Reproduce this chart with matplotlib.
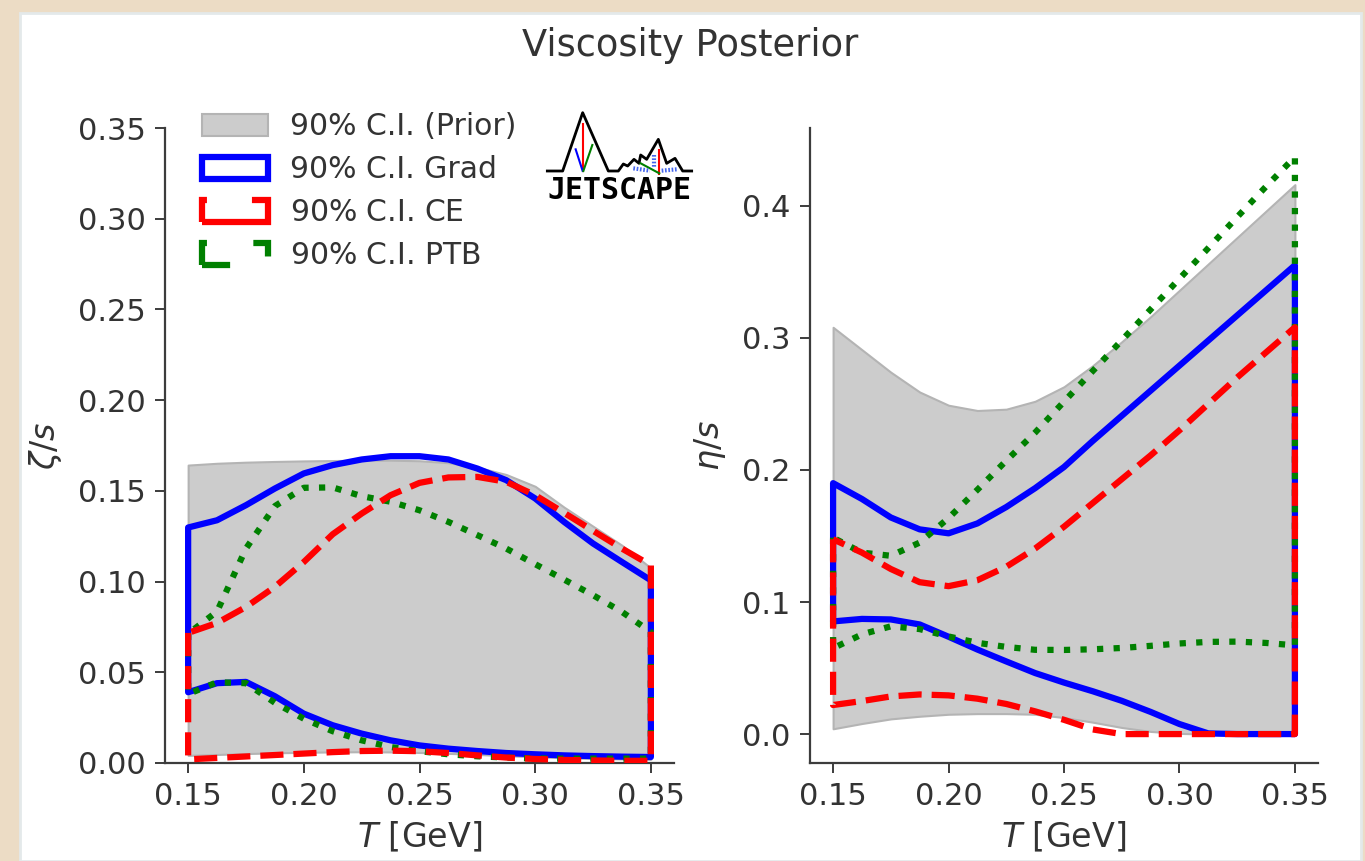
import matplotlib.pyplot as plt
from matplotlib.patches import Rectangle

# temperature grid [GeV]
T = [0.15, 0.1625, 0.175, 0.1875, 0.2, 0.2125, 0.225, 0.2375, 0.25,
     0.2625, 0.275, 0.2875, 0.3, 0.3125, 0.325, 0.3375, 0.35]

# zeta/s 90% bands
zeta_prior_lo = [0.0042, 0.0047, 0.0052, 0.0056, 0.0059, 0.0061, 0.0062, 0.0061, 0.0058,
                 0.0053, 0.0047, 0.0040, 0.0034, 0.0029, 0.0025, 0.0022, 0.0020]
zeta_prior_hi = [0.1642, 0.1652, 0.1658, 0.1662, 0.1665, 0.1667, 0.1669, 0.1669, 0.1666,
                 0.1655, 0.1630, 0.1590, 0.1525, 0.1410, 0.1305, 0.1200, 0.1075]
zeta_grad_lo = [0.0390, 0.0440, 0.0447, 0.0368, 0.0272, 0.0208, 0.0162, 0.0125, 0.0097,
                0.0079, 0.0066, 0.0055, 0.0048, 0.0042, 0.0038, 0.0035, 0.0033]
zeta_grad_hi = [0.1298, 0.1338, 0.1421, 0.1513, 0.1596, 0.1642, 0.1673, 0.1691, 0.1691,
                0.1673, 0.1623, 0.1559, 0.1458, 0.1329, 0.1210, 0.1108, 0.1007]
zeta_ce_lo = [0.0020, 0.0028, 0.0036, 0.0044, 0.0052, 0.0060, 0.0066, 0.0068, 0.0065,
              0.0055, 0.0042, 0.0030, 0.0022, 0.0017, 0.0014, 0.0012, 0.0012]
zeta_ce_hi = [0.0717, 0.0772, 0.0860, 0.0971, 0.1108, 0.1261, 0.1375, 0.1476, 0.1544,
              0.1574, 0.1577, 0.1550, 0.1476, 0.1379, 0.1280, 0.1182, 0.1090]
zeta_ptb_lo = [0.0380, 0.0445, 0.0440, 0.0332, 0.0244, 0.0175, 0.0125, 0.0088, 0.0065,
               0.0048, 0.0037, 0.0030, 0.0025, 0.0024, 0.0024, 0.0024, 0.0024]
zeta_ptb_hi = [0.0713, 0.0835, 0.1182, 0.1416, 0.1517, 0.1519, 0.1471, 0.1440, 0.1393,
               0.1329, 0.1256, 0.1182, 0.1096, 0.1011, 0.0925, 0.0833, 0.0722]

# eta/s 90% bands
eta_prior_lo = [0.004, 0.008, 0.0115, 0.0135, 0.015, 0.0155, 0.0155, 0.015, 0.0125,
                0.009, 0.005, 0.002, 0.0005, 0.0, 0.0, 0.0, 0.0]
eta_prior_hi = [0.308, 0.291, 0.274, 0.259, 0.249, 0.245, 0.246, 0.252, 0.263,
                0.279, 0.297, 0.316, 0.336, 0.356, 0.376, 0.396, 0.416]
eta_grad_lo = [0.0853, 0.0872, 0.0868, 0.0830, 0.0737, 0.0640, 0.0550, 0.0462, 0.0390,
               0.0324, 0.0252, 0.0168, 0.0076, 0.0005, 0.0, 0.0, 0.0]
eta_grad_hi = [0.190, 0.178, 0.164, 0.155, 0.152, 0.1595, 0.1719, 0.1862, 0.2022,
               0.222, 0.241, 0.260, 0.279, 0.298, 0.317, 0.336, 0.355]
eta_ce_lo = [0.022, 0.025, 0.0285, 0.0300, 0.0293, 0.0268, 0.0228, 0.0172, 0.0108,
             0.0035, 0.0, 0.0, 0.0, 0.0, 0.0, 0.0, 0.0]
eta_ce_hi = [0.1475, 0.1374, 0.125, 0.115, 0.112, 0.1165, 0.1267, 0.1405, 0.157,
             0.175, 0.193, 0.211, 0.230, 0.250, 0.270, 0.289, 0.308]
eta_ptb_lo = [0.065, 0.0755, 0.0816, 0.0795, 0.0739, 0.0691, 0.0660, 0.0638, 0.0637,
              0.0642, 0.0652, 0.0668, 0.0686, 0.0698, 0.0700, 0.0690, 0.0672]
eta_ptb_hi = [0.1487, 0.1374, 0.135, 0.145, 0.1636, 0.185, 0.207, 0.2283, 0.2517,
              0.2750, 0.2981, 0.3215, 0.3448, 0.368, 0.3915, 0.4146, 0.437]

labels = ['90% C.I. (Prior)', '90% C.I. Grad', r'90% C.I. $\mathrm{CE}$', r'90% C.I. $\mathrm{PTB}$']

TXT = '#333333'
plt.rcParams['font.family'] = ['DejaVu Sans']
plt.rcParams['mathtext.fontset'] = 'dejavusans'

fig = plt.figure(figsize=(13.65, 8.61), dpi=100, facecolor='#ecdcc5')
fig.patches.append(Rectangle((20 / 1365, 0), 1341 / 1365, 848 / 861, transform=fig.transFigure,
                             facecolor='white', edgecolor='#e4e9ea', lw=2, zorder=-5))

ax1 = fig.add_axes([165 / 1365, 1 - 763 / 861, 509 / 1365, 635 / 861])
ax2 = fig.add_axes([810 / 1365, 1 - 763 / 861, 508 / 1365, 635 / 861])


def draw_bands(ax, prior, grad, ce, ptb):
    hs = []
    hs.append(ax.fill_between(T, prior[0], prior[1], facecolor='#cccccc', edgecolor='#b4b4b4',
                              lw=1.5, zorder=1))
    hs.append(ax.fill_between(T, grad[0], grad[1], facecolor='none', edgecolor='blue',
                              lw=4.5, linestyle='-', zorder=2))
    hs.append(ax.fill_between(T, ce[0], ce[1], facecolor='none', edgecolor='red',
                              lw=4.5, linestyle='--', zorder=4))
    hs.append(ax.fill_between(T, ptb[0], ptb[1], facecolor='none', edgecolor='green',
                              lw=4.5, linestyle=':', zorder=3))
    return hs


handles = draw_bands(ax1, (zeta_prior_lo, zeta_prior_hi), (zeta_grad_lo, zeta_grad_hi),
                     (zeta_ce_lo, zeta_ce_hi), (zeta_ptb_lo, zeta_ptb_hi))
draw_bands(ax2, (eta_prior_lo, eta_prior_hi), (eta_grad_lo, eta_grad_hi),
           (eta_ce_lo, eta_ce_hi), (eta_ptb_lo, eta_ptb_hi))

ax1.set_xlim(0.14, 0.36)
ax1.set_ylim(0, 0.35)
ax1.set_yticks([0.0, 0.05, 0.1, 0.15, 0.2, 0.25, 0.3, 0.35])
ax2.set_xlim(0.14, 0.36)
ax2.set_ylim(-0.0219, 0.4589)

for ax in (ax1, ax2):
    ax.set_xticks([0.15, 0.2, 0.25, 0.3, 0.35])
    for s in ('top', 'right'):
        ax.spines[s].set_visible(False)
    for s in ('left', 'bottom'):
        ax.spines[s].set_color('#3c3c3c')
        ax.spines[s].set_linewidth(1.6)
    ax.tick_params(labelsize=22, colors='#3c3c3c', labelcolor=TXT, length=7, width=1.4, pad=7)
    ax.set_xlabel(r'$T$ [GeV]', fontsize=24, color=TXT, labelpad=6)
    ax.set_facecolor('none')

ax1.set_ylabel(r'$\zeta/s$', fontsize=24, color=TXT, labelpad=10)
ax2.set_ylabel(r'$\eta/s$', fontsize=24, color=TXT, labelpad=10)

leg = ax1.legend(handles, labels, loc='upper left', bbox_to_anchor=(202 / 1365, 1 - 112 / 861),
                 bbox_transform=fig.transFigure, frameon=False, fontsize=21.5,
                 borderpad=0, borderaxespad=0, handlelength=2.2, handleheight=0.75,
                 handletextpad=0.75, labelspacing=0.47)
for t in leg.get_texts():
    t.set_color(TXT)

fig.text(690 / 1365, 1 - 45 / 861, 'Viscosity Posterior', ha='center', va='center',
         fontsize=26.5, color=TXT)

# JETSCAPE logo
lg = fig.add_axes([540 / 1365, 1 - 210 / 861, 170 / 1365, 110 / 861])
lg.set_xlim(0, 510)
lg.set_ylim(330, 0)
lg.axis('off')
mx = [22, 68, 128, 205, 235, 250, 263, 282, 297, 302, 320, 355, 380, 405, 428, 455]
my = [213, 213, 38, 213, 213, 192, 198, 178, 190, 165, 178, 118, 190, 175, 213, 213]
lg.plot(mx, my, color='black', lw=2)
lg.plot([130, 130], [72, 213], color='red', lw=1.5)
lg.plot([107, 128], [148, 213], color='blue', lw=1.5)
lg.plot([157, 130], [135, 213], color='green', lw=1.5)
lg.plot([358, 358], [150, 222], color='red', lw=1.5)
lg.plot([302, 358], [190, 220], color='green', lw=1.5)
lg.plot([280, 330], [205, 212], color='#4466ee', lw=3, ls=(0, (0.4, 0.4)))
lg.plot([365, 410], [212, 208], color='#4466ee', lw=3, ls=(0, (0.4, 0.4)))
lg.plot([342, 342], [165, 200], color='#4466ee', lw=3, ls=(0, (0.4, 0.4)))
lg.text(238, 272, 'JETSCAPE', ha='center', va='center', fontsize=21.5,
        family='DejaVu Sans Mono', weight='heavy', color='black')

fig.savefig('out.png', dpi=100, facecolor=fig.get_facecolor())
